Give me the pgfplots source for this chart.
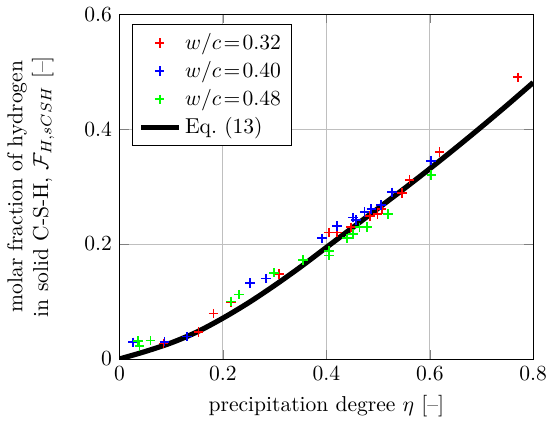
\documentclass[border=0pt]{standalone}
\usepackage{pgfplots}
\pgfplotsset{compat=1.18}
\begin{document}
\begin{tikzpicture}
\begin{axis}[
  scale only axis, width=192pt, height=160pt,
  xmin=0, xmax=0.8, ymin=0, ymax=0.6,
  xtick={0,0.2,0.4,0.6,0.8}, ytick={0,0.2,0.4,0.6},
  xticklabel style={inner xsep=0pt},
  grid=major, grid style={lightgray},
  xlabel={precipitation degree $\eta$ [--]},
  ylabel={molar fraction of hydrogen\\in solid C-S-H, $\mathcal{F}_{H,sCSH}$ [--]},
  ylabel style={align=center}, ylabel shift=7pt,
  legend style={at={(0.03,0.97)}, anchor=north west, legend cell align={left}},
]
\addplot[only marks, mark=+, red, thick, mark size=2.2pt] coordinates {
(0.085,0.027)(0.153,0.047)(0.182,0.079)(0.216,0.098)(0.309,0.148)
(0.405,0.220)(0.421,0.220)(0.448,0.229)(0.484,0.249)(0.499,0.252)
(0.507,0.261)(0.546,0.289)(0.561,0.312)(0.619,0.360)(0.770,0.490)};
\addlegendentry{$w/c\!=\!0.32$}
\addplot[only marks, mark=+, blue, thick, mark size=2.2pt] coordinates {
(0.026,0.029)(0.087,0.030)(0.131,0.039)(0.252,0.132)(0.283,0.140)
(0.392,0.210)(0.421,0.231)(0.452,0.246)(0.457,0.242)(0.474,0.256)
(0.487,0.261)(0.506,0.268)(0.527,0.290)(0.602,0.345)};
\addlegendentry{$w/c\!=\!0.40$}
\addplot[only marks, mark=+, green, thick, mark size=2.2pt] coordinates {
(0.036,0.031)(0.039,0.022)(0.060,0.032)(0.216,0.100)(0.231,0.112)
(0.299,0.150)(0.355,0.172)(0.405,0.188)(0.405,0.180)(0.440,0.210)
(0.452,0.217)(0.464,0.229)(0.479,0.230)(0.519,0.252)(0.603,0.320)};
\addlegendentry{$w/c\!=\!0.48$}
\addplot[black, line width=2.4pt, smooth] coordinates {
(0,0)(0.05,0.013)(0.1,0.028)(0.15,0.047)(0.2,0.071)(0.25,0.098)
(0.3,0.128)(0.35,0.160)(0.4,0.194)(0.45,0.228)(0.5,0.262)(0.55,0.296)
(0.6,0.331)(0.65,0.367)(0.7,0.404)(0.75,0.442)(0.8,0.481)};
\addlegendentry{Eq.~(13)}
\end{axis}
\end{tikzpicture}
\end{document}
